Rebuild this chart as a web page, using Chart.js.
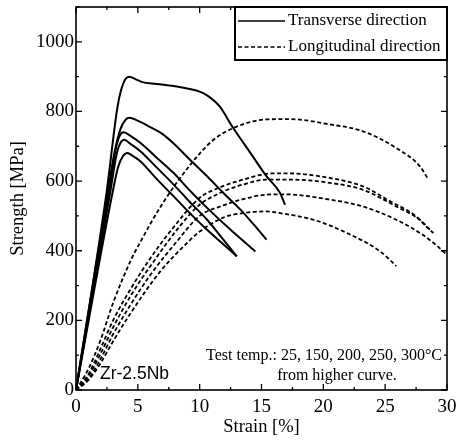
<!DOCTYPE html>
<html>
<head>
<meta charset="utf-8">
<script src="https://cdn.jsdelivr.net/npm/chart.js@4/dist/chart.umd.min.js"></script>
<style>
  html, body { margin: 0; padding: 0; background: #fff; }
</style>
</head>
<body>
<canvas id="chart" width="457" height="442"></canvas>
<script>
// stress-strain curves, [strain %, stress MPa], from higher curve: 25, 150, 200, 250, 300 C
const temps = ["25", "150", "200", "250", "300"];

const trans25 = [[0,0],[2.5,575],[3.3,800],[3.6,855],[4.0,893],[4.3,900],[4.8,893],[5.3,885],[6.5,879],[7.9,873],[9.0,866],[10.0,857],[10.6,846],[11.6,815],[12.7,753],[14.1,681],[15.4,614],[16.5,566],[16.9,532]];
const trans150 = [[0,0],[2.6,575],[3.1,680],[3.6,750],[4.0,776],[4.3,782],[5.2,770],[6.0,755],[7.0,735],[7.9,708],[9.2,662],[10.6,614],[12.0,563],[13.3,518],[14.4,474],[15.4,432]];
const trans200 = [[0,0],[2.7,575],[3.2,690],[3.5,728],[3.85,740],[4.4,730],[5.2,710],[6.5,668],[7.9,623],[9.2,573],[10.6,523],[12.5,460],[14.5,398]];
const trans250 = [[0,0],[2.8,575],[3.3,680],[3.6,710],[3.9,719],[4.4,707],[5.2,686],[6.5,640],[7.9,590],[9.2,540],[10.6,489],[11.8,437],[13.0,384]];
const trans300 = [[0,0],[3.0,575],[3.4,640],[3.8,672],[4.15,681],[4.6,672],[5.2,657],[6.5,607],[7.9,556],[9.2,508],[10.6,460],[11.8,422],[13.0,384]];

const long25 = [[0,0],[1,60],[2,145],[3,250],[4.4,370],[5.2,425],[6.9,530],[9.2,645],[11,715],[12.7,752],[15.4,777],[17.3,778],[20.5,763],[23.2,743],[25.9,695],[27.8,643],[28.5,604]];
const long150 = [[0,0],[1,45],[2,120],[3,200],[4.5,295],[6,378],[7.9,468],[10,552],[11.5,580],[13.3,602],[15.9,622],[17.3,622],[20.5,609],[23.2,585],[25.4,542],[27.3,504],[28.6,460],[28.9,451]];
const long200 = [[0,0],[1,40],[2,105],[3,180],[4.5,275],[6,355],[8.5,475],[10,532],[11.9,570],[13.5,590],[15.4,604],[17.5,604],[20.5,595],[23.2,575],[25.9,527],[27.8,489],[28.75,456]];
const long250 = [[0,0],[1,32],[2,90],[3,160],[4.5,250],[6,330],[8,420],[10,500],[11.9,530],[13.5,548],[15.4,561],[16.9,562],[20.5,547],[23.2,527],[25.9,489],[27.8,451],[29,420],[30,388]];
const long300 = [[0,0],[1,28],[2,78],[3,140],[4.5,225],[6.8,340],[9.2,430],[10,455],[11.9,495],[13.5,508],[15.4,513],[16.5,508],[19.2,489],[21.9,451],[24.6,398],[25.9,356]];

const transverse = [trans25, trans150, trans200, trans250, trans300];
const longitudinal = [long25, long150, long200, long250, long300];

const serif = "'Liberation Serif', 'Times New Roman', serif";
const DASH = [4, 2.5];

const toPoints = (arr) => arr.map(([x, y]) => ({ x, y }));

const datasets = [];
transverse.forEach((curve, i) => {
  datasets.push({
    label: "Transverse " + temps[i] + "°C",
    data: toPoints(curve),
    borderColor: "#000",
    borderWidth: 2,
  });
});
longitudinal.forEach((curve, i) => {
  datasets.push({
    label: "Longitudinal " + temps[i] + "°C",
    data: toPoints(curve),
    borderColor: "#000",
    borderWidth: 1.8,
    borderDash: DASH,
  });
});

// frame, inward ticks, legend box and notes
const decorations = {
  id: "decorations",
  beforeDraw(chart) {
    const { ctx } = chart;
    ctx.save();
    ctx.fillStyle = "#fff";
    ctx.fillRect(0, 0, chart.width, chart.height);
    ctx.restore();
  },
  afterDraw(chart) {
    const { ctx, chartArea: a, scales } = chart;
    const x = scales.x, y = scales.y;
    ctx.save();
    ctx.strokeStyle = "#000";
    ctx.lineWidth = 1.6;
    ctx.strokeRect(a.left, a.top, a.right - a.left, a.bottom - a.top);

    ctx.lineWidth = 1.3;
    ctx.beginPath();
    for (let v = 0; v <= 30; v += 2.5) {
      const px = x.getPixelForValue(v);
      const len = v % 5 === 0 ? 6 : 3;
      ctx.moveTo(px, a.bottom); ctx.lineTo(px, a.bottom - len);
      ctx.moveTo(px, a.top); ctx.lineTo(px, a.top + len);
    }
    for (let v = 0; v <= 1100; v += 100) {
      const py = y.getPixelForValue(v);
      const len = v % 200 === 0 ? 6 : 3;
      ctx.moveTo(a.left, py); ctx.lineTo(a.left + len, py);
      ctx.moveTo(a.right, py); ctx.lineTo(a.right - len, py);
    }
    ctx.stroke();

    // legend
    const lx = 235, ly = a.top, lw = a.right - 235, lh = 53;
    ctx.fillStyle = "#fff";
    ctx.fillRect(lx, ly, lw, lh);
    ctx.lineWidth = 2;
    ctx.strokeRect(lx, ly, lw, lh);
    ctx.lineWidth = 1.6;
    ctx.beginPath();
    ctx.moveTo(238, 21); ctx.lineTo(285, 21);
    ctx.stroke();
    ctx.setLineDash(DASH);
    ctx.beginPath();
    ctx.moveTo(238, 47); ctx.lineTo(285, 47);
    ctx.stroke();
    ctx.setLineDash([]);
    ctx.fillStyle = "#000";
    ctx.font = "17px " + serif;
    ctx.textBaseline = "middle";
    ctx.textAlign = "left";
    ctx.fillText("Transverse direction", 288, 21);
    ctx.fillText("Longitudinal direction", 288, 47);

    // notes
    ctx.font = "16px " + serif;
    ctx.textAlign = "right";
    ctx.fillText("Test temp.: 25, 150, 200, 250, 300°C", 442, 356);
    ctx.textAlign = "center";
    ctx.fillText("from higher curve.", 337, 376);
    ctx.font = "17.5px 'Liberation Sans', Arial, sans-serif";
    ctx.textAlign = "left";
    ctx.fillText("Zr-2.5Nb", 100, 374);
    ctx.restore();
  }
};

new Chart(document.getElementById("chart"), {
  type: "scatter",
  data: { datasets },
  options: {
    responsive: false,
    animation: false,
    showLine: true,
    layout: { padding: { left: 0, right: 10, top: 7, bottom: 0 } },
    elements: {
      point: { radius: 0 },
      line: { cubicInterpolationMode: "monotone", fill: false },
    },
    plugins: {
      legend: { display: false },
      tooltip: { enabled: false },
    },
    scales: {
      x: {
        type: "linear",
        min: 0,
        max: 30,
        grid: { display: false, drawTicks: false },
        border: { display: false },
        ticks: { stepSize: 5, color: "#000", padding: 6, font: { family: serif, size: 19 }, callback: (v) => String(v) },
        title: { display: true, text: "Strain [%]", color: "#000", padding: { top: 0, bottom: 4 }, font: { family: serif, size: 18.5 } },
        afterFit: (s) => { s.height = 52; s.paddingLeft = 0; s.paddingRight = 0; },
      },
      y: {
        type: "linear",
        min: 0,
        max: 1100,
        grid: { display: false, drawTicks: false },
        border: { display: false },
        ticks: { stepSize: 200, color: "#000", padding: 2, font: { family: serif, size: 19 }, callback: (v) => String(v) },
        afterBuildTicks: (s) => { s.ticks = s.ticks.filter((t) => t.value % 200 === 0); },
        title: { display: true, text: "Strength [MPa]", color: "#000", padding: { top: 7, bottom: 0 }, font: { family: serif, size: 18.5 } },
        afterFit: (s) => { s.width = 76; s.paddingTop = 0; s.paddingBottom = 0; },
      },
    },
  },
  plugins: [decorations],
});
</script>
</body>
</html>
